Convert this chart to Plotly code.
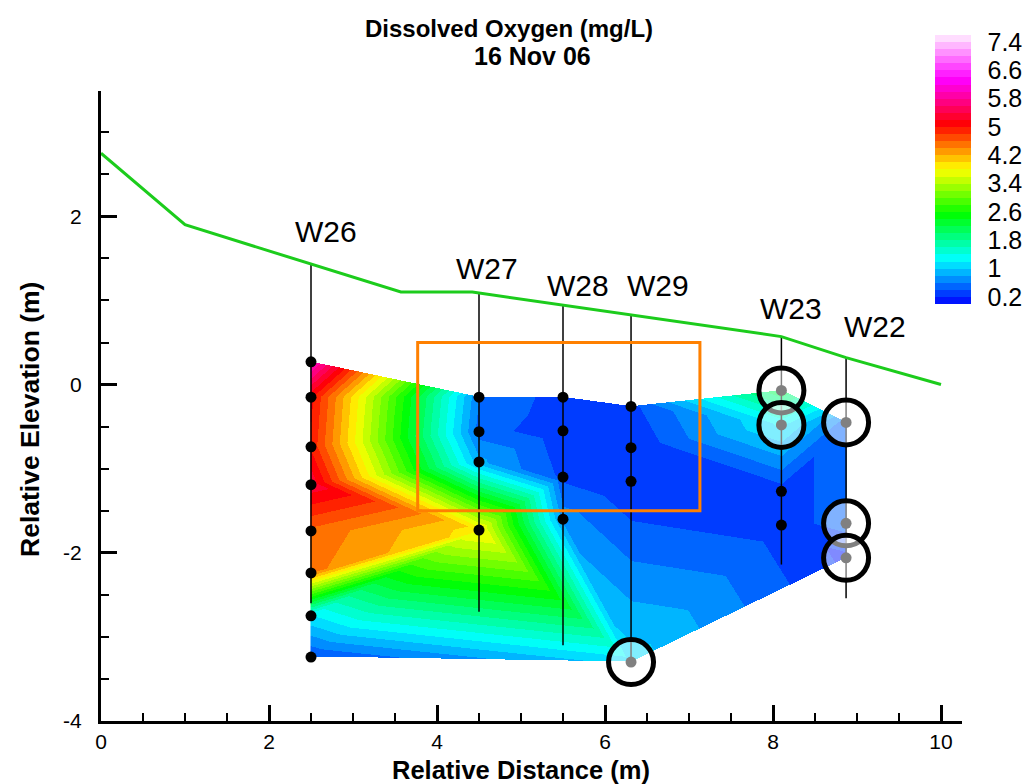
import numpy as np
import plotly.graph_objects as go

# ---------------------------------------------------------------------------
# Monitoring wells: horizontal position, sampling elevations and DO readings
# ---------------------------------------------------------------------------
WELL_NAMES = ["W26", "W27", "W28", "W29", "W23", "W22"]
WELL_X = [2.5, 4.5, 5.5, 6.31, 8.1, 8.87]
WELL_BOTTOM = [-2.6, -2.7, -3.1, -3.3, -2.14, -2.54]

W26_ELEV = [0.27, -0.15, -0.74, -1.19, -1.74, -2.24, -2.75, -3.24]
W26_DO = [6.1, 5.05, 4.95, 5.35, 4.55, 4.45, 1.2, 0.4]
W27_ELEV = [-0.15, -0.56, -0.92, -1.73]
W27_DO = [0.6, 0.5, 0.85, 3.9]
W28_ELEV = [-0.15, -0.55, -1.1, -1.6]
W28_DO = [0.3, 0.25, 0.35, 0.7]
W29_ELEV = [-0.26, -0.75, -1.15, -3.3]
W29_DO = [0.35, 0.2, 0.2, 1.1]
W23_ELEV = [-0.07, -0.48, -1.27, -1.67]
W23_DO = [2.2, 1.25, 0.3, 0.3]
W22_ELEV = [-0.45, -1.65, -2.06]
W22_DO = [0.5, 0.5, 0.15]

WELL_ELEV = [W26_ELEV, W27_ELEV, W28_ELEV, W29_ELEV, W23_ELEV, W22_ELEV]
WELL_DO = [W26_DO, W27_DO, W28_DO, W29_DO, W23_DO, W22_DO]

# samples that are circled (well name, sample index)
FLAGGED = [("W29", 3), ("W23", 0), ("W23", 1), ("W22", 0), ("W22", 1), ("W22", 2)]

# outline of the sampled section (well name, sample index), clockwise
OUTLINE = [("W26", 0), ("W27", 0), ("W28", 0), ("W29", 0), ("W23", 0),
           ("W22", 0), ("W22", -1), ("W29", -1), ("W26", -1)]

# ground surface profile
GROUND_X = [0.0, 1.0, 3.57, 4.42, 8.1, 8.87, 10.0]
GROUND_Y = [2.75, 1.9, 1.1, 1.1, 0.57, 0.32, 0.0]

# highlighted zone
ZONE_X = [3.77, 7.13]
ZONE_Y = [-1.5, 0.5]

# contour levels / legend labels
LEVEL_MIN, LEVEL_MAX, LEVEL_STEP = 0.0, 7.6, 0.2
LEGEND_TICKS = [0.2, 1.0, 1.8, 2.6, 3.4, 4.2, 5.0, 5.8, 6.6, 7.4]
LEGEND_TEXT = ["0.2", "1", "1.8", "2.6", "3.4", "4.2", "5", "5.8", "6.6", "7.4"]

# well label placement (data coordinates)
LABEL_X = [2.68, 4.6, 5.68, 6.63, 8.21, 9.21]
LABEL_Y = [1.82, 1.38, 1.18, 1.18, 0.9, 0.69]

FONT = "Liberation Sans, Arial, sans-serif"

# ---------------------------------------------------------------------------
# Flatten samples
# ---------------------------------------------------------------------------
px, py, pv, index_of = [], [], [], {}
for name, wx, elev, do in zip(WELL_NAMES, WELL_X, WELL_ELEV, WELL_DO):
    for k, (e, v) in enumerate(zip(elev, do)):
        index_of[(name, k)] = len(px)
        index_of[(name, k - len(elev))] = len(px)
        px.append(wx)
        py.append(e)
        pv.append(v)
px, py, pv = np.array(px), np.array(py), np.array(pv)


# ---------------------------------------------------------------------------
# Delaunay triangulation (Bowyer-Watson)
# ---------------------------------------------------------------------------
def circumcircle(a, b, c):
    ax, ay = a
    bx, by = b
    cx, cy = c
    d = 2.0 * (ax * (by - cy) + bx * (cy - ay) + cx * (ay - by))
    if abs(d) < 1e-14:
        return 0.0, 0.0, -1.0
    a2, b2, c2 = ax * ax + ay * ay, bx * bx + by * by, cx * cx + cy * cy
    ux = (a2 * (by - cy) + b2 * (cy - ay) + c2 * (ay - by)) / d
    uy = (a2 * (cx - bx) + b2 * (ax - cx) + c2 * (bx - ax)) / d
    return ux, uy, (ax - ux) ** 2 + (ay - uy) ** 2


def delaunay(xs, ys):
    pts = list(zip(xs.tolist(), ys.tolist()))
    n = len(pts)
    mx, my, big = float(np.mean(xs)), float(np.mean(ys)), 200.0
    pts += [(mx - big, my - big), (mx + big, my - big), (mx, my + big)]
    tris = {(n, n + 1, n + 2): circumcircle(pts[n], pts[n + 1], pts[n + 2])}
    for i in range(n):
        x, y = pts[i]
        bad = [t for t, (ux, uy, r2) in tris.items()
               if (x - ux) ** 2 + (y - uy) ** 2 < r2 * (1 + 1e-12)]
        edges = {}
        for t in bad:
            for e in ((t[0], t[1]), (t[1], t[2]), (t[2], t[0])):
                key = tuple(sorted(e))
                edges[key] = edges.get(key, 0) + 1
        for t in bad:
            del tris[t]
        for (a, b), cnt in edges.items():
            if cnt == 1:
                cc = circumcircle(pts[a], pts[b], pts[i])
                if cc[2] > 0:
                    tris[(a, b, i)] = cc
    return [t for t in tris if max(t) < n]


def inside_polygon(x, y, poly):
    inside = False
    m = len(poly)
    for k in range(m):
        x1, y1 = poly[k]
        x2, y2 = poly[(k + 1) % m]
        if (y1 > y) != (y2 > y):
            xc = x1 + (y - y1) * (x2 - x1) / (y2 - y1)
            if xc > x:
                inside = not inside
    return inside


outline_pts = [(px[index_of[k]], py[index_of[k]]) for k in OUTLINE]
triangles = [t for t in delaunay(px, py)
             if inside_polygon(px[list(t)].mean(), py[list(t)].mean(), outline_pts)]

# ---------------------------------------------------------------------------
# Linear interpolation over the triangles onto a fine grid
# ---------------------------------------------------------------------------
cell = 1.0 / 84.0
gx = np.arange(px.min(), px.max() + cell / 2, cell)
gy = np.arange(py.min(), py.max() + cell / 2, cell)
GX, GY = np.meshgrid(gx, gy)
field = np.full(GX.shape, np.nan)
for i, j, k in triangles:
    x1, y1, x2, y2, x3, y3 = px[i], py[i], px[j], py[j], px[k], py[k]
    det = (y2 - y3) * (x1 - x3) + (x3 - x2) * (y1 - y3)
    l1 = ((y2 - y3) * (GX - x3) + (x3 - x2) * (GY - y3)) / det
    l2 = ((y3 - y1) * (GX - x3) + (x1 - x3) * (GY - y3)) / det
    l3 = 1.0 - l1 - l2
    m = (l1 >= -1e-9) & (l2 >= -1e-9) & (l3 >= -1e-9)
    field[m] = l1[m] * pv[i] + l2[m] * pv[j] + l3[m] * pv[k]

z_list = [[None if np.isnan(v) else round(float(v), 3) for v in row] for row in field]

# ---------------------------------------------------------------------------
# Banded rainbow colour scale (blue-cyan-green-yellow-red-magenta-white)
# ---------------------------------------------------------------------------
anchor_rgb = np.array([[0, 0, 255], [0, 255, 255], [0, 255, 0], [255, 255, 0],
                       [255, 0, 0], [255, 0, 255], [255, 240, 255]], dtype=float)
anchor_v = np.linspace(LEVEL_MIN, LEVEL_MAX, len(anchor_rgb))
n_bands = int(round((LEVEL_MAX - LEVEL_MIN) / LEVEL_STEP))
colorscale = []
for b in range(n_bands):
    c = LEVEL_MIN + (b + 0.5) * LEVEL_STEP
    rgb = [int(round(np.interp(c, anchor_v, anchor_rgb[:, ch]))) for ch in range(3)]
    col = "rgb(%d,%d,%d)" % tuple(rgb)
    colorscale.append([b / n_bands, col])
    colorscale.append([(b + 1) / n_bands, col])


def paper_x(pix):
    return (pix - 101) / 861


def paper_y(pix):
    return (721 - pix) / 630


# ---------------------------------------------------------------------------
# Figure
# ---------------------------------------------------------------------------
fig = go.Figure()

fig.add_trace(go.Heatmap(
    x=gx, y=gy, z=z_list, zmin=LEVEL_MIN, zmax=LEVEL_MAX, zsmooth=False,
    colorscale=colorscale, hoverinfo="skip",
    colorbar=dict(
        tickvals=LEGEND_TICKS, ticktext=LEGEND_TEXT,
        thickness=36, thicknessmode="pixels", len=269, lenmode="pixels",
        x=paper_x(935), xanchor="left", y=paper_y(35), yanchor="top",
        xpad=0, ypad=0, outlinewidth=0,
        ticks="outside", ticklen=12, tickcolor="rgba(0,0,0,0)",
        tickfont=dict(family=FONT, size=25, color="black"),
    ),
))

# well casings
lx, ly = [], []
for wx, wb in zip(WELL_X, WELL_BOTTOM):
    top = float(np.interp(wx, GROUND_X, GROUND_Y))
    lx += [wx, wx, None]
    ly += [top, wb, None]
fig.add_trace(go.Scatter(x=lx, y=ly, mode="lines", line=dict(color="black", width=1.5),
                         hoverinfo="skip", showlegend=False))

# ground surface
fig.add_trace(go.Scatter(x=GROUND_X, y=GROUND_Y, mode="lines",
                         line=dict(color="#1ccc1c", width=3), hoverinfo="skip",
                         showlegend=False))

# sample points
fig.add_trace(go.Scatter(x=px, y=py, mode="markers",
                         marker=dict(color="black", size=11), hoverinfo="skip",
                         showlegend=False))

# circled samples
fx = [px[index_of[k]] for k in FLAGGED]
fy = [py[index_of[k]] for k in FLAGGED]
fig.add_trace(go.Scatter(x=fx, y=fy, mode="markers",
                         marker=dict(size=45, color="rgba(255,255,255,0.5)",
                                     line=dict(color="black", width=5)),
                         hoverinfo="skip", showlegend=False))

# highlighted zone
fig.add_shape(type="rect", x0=ZONE_X[0], x1=ZONE_X[1], y0=ZONE_Y[0], y1=ZONE_Y[1],
              line=dict(color="#ff8000", width=3), layer="above")

# well names
for name, lxp, lyp in zip(WELL_NAMES, LABEL_X, LABEL_Y):
    fig.add_annotation(x=lxp, y=lyp, text=name, showarrow=False,
                       xanchor="center", yanchor="middle",
                       font=dict(family=FONT, size=30, color="black"))

# titles
fig.add_annotation(xref="paper", yref="paper", x=paper_x(509), y=paper_y(29),
                   xanchor="center", yanchor="middle",
                   text="<b>Dissolved Oxygen (mg/L)</b>", showarrow=False,
                   font=dict(family=FONT, size=24, color="black"))
fig.add_annotation(xref="paper", yref="paper", x=paper_x(532), y=paper_y(56),
                   xanchor="center", yanchor="middle",
                   text="<b>16 Nov 06</b>", showarrow=False,
                   font=dict(family=FONT, size=25, color="black"))
fig.add_annotation(xref="paper", yref="paper", x=paper_x(521), y=paper_y(770),
                   xanchor="center", yanchor="middle",
                   text="<b>Relative Distance (m)</b>", showarrow=False,
                   font=dict(family=FONT, size=25.5, color="black"))
fig.add_annotation(xref="paper", yref="paper", x=paper_x(30), y=paper_y(420),
                   xanchor="center", yanchor="middle",
                   text="<b>Relative Elevation (m)</b>", showarrow=False, textangle=-90,
                   font=dict(family=FONT, size=26.5, color="black"))

axis_common = dict(showgrid=False, zeroline=False, showline=True, linewidth=3,
                   linecolor="black", ticks="inside", ticklen=16, tickwidth=3,
                   tickcolor="black", tickfont=dict(family=FONT, size=21, color="black"),
                   mirror=False, automargin=False)
fig.update_xaxes(range=[0, 10.25], tickvals=[0, 2, 4, 6, 8, 10],
                 ticktext=["0", "2", "4", "6", "8", "10"], ticklabelstandoff=0,
                 minor=dict(dtick=0.5, ticks="inside", ticklen=8, tickwidth=1.5,
                            tickcolor="black"),
                 **axis_common)
fig.update_yaxes(range=[-4, 3.49], tickvals=[-4, -2, 0, 2],
                 ticktext=["-4", "-2", "0", "2"], ticklabelstandoff=12,
                 minor=dict(dtick=0.5, ticks="inside", ticklen=8, tickwidth=1.5,
                            tickcolor="black"),
                 **axis_common)

fig.update_layout(
    width=1031, height=784,
    margin=dict(l=101, r=69, t=91, b=63, autoexpand=False),
    paper_bgcolor="white", plot_bgcolor="white",
    showlegend=False,
    font=dict(family=FONT, color="black"),
)

fig.write_html("out.html")
